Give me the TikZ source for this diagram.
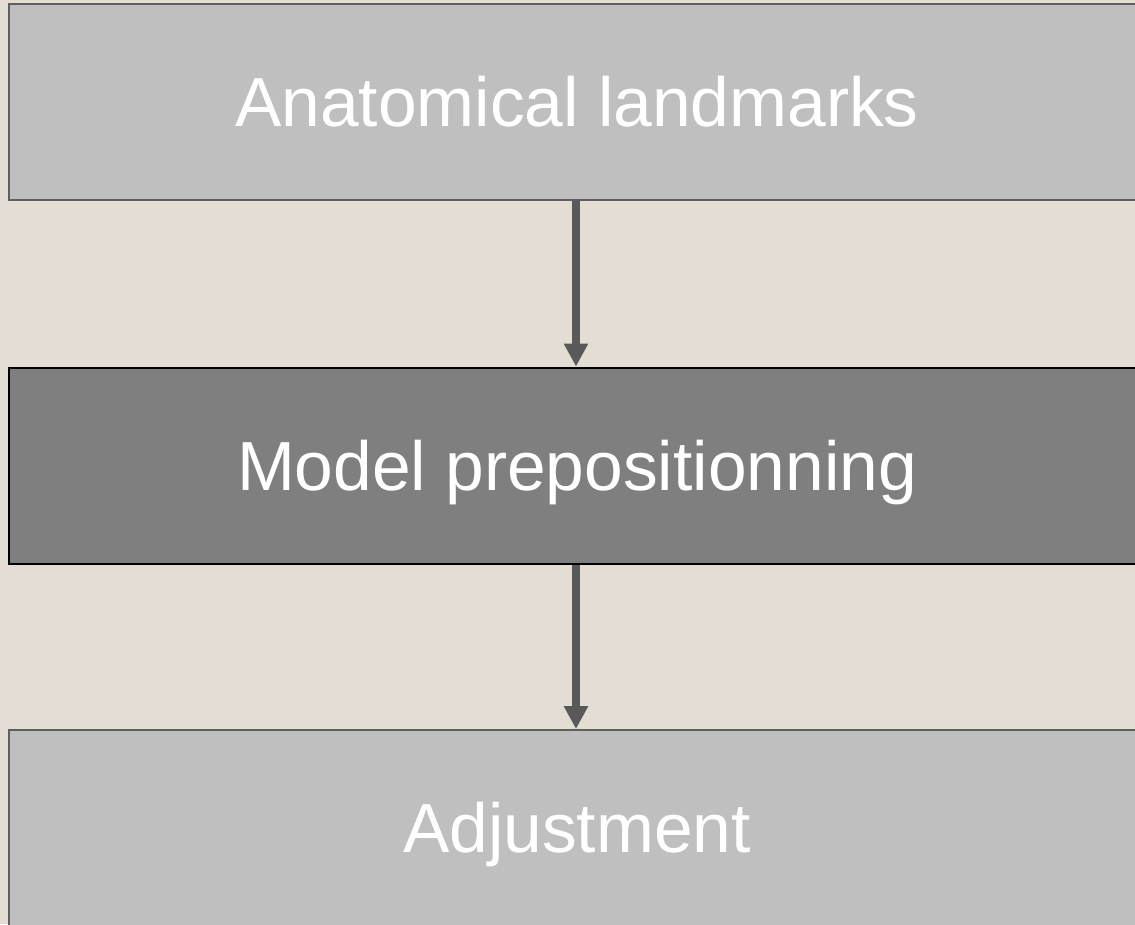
\documentclass[tikz,border=0pt]{standalone}
\usepackage{fontspec}
\setmainfont{Liberation Sans}
\usetikzlibrary{arrows.meta}
\definecolor{bg}{HTML}{E3DDD3}
\definecolor{lightbox}{HTML}{BFBFBF}
\definecolor{darkbox}{HTML}{7F7F7F}
\definecolor{lightborder}{HTML}{5F5F5F}
\definecolor{arrowc}{HTML}{595959}
\tikzset{
  stepbox/.style={rectangle, minimum width=1136pt, minimum height=196pt, inner sep=0pt,
    font=\fontsize{69.5}{80}\selectfont, text=white, text height=49.8pt, text depth=0pt},
  lightstep/.style={stepbox, fill=lightbox, draw=lightborder, line width=2pt},
  darkstep/.style={stepbox, fill=darkbox, draw=black, line width=2pt},
  flow/.style={draw=arrowc, line width=8pt, -{Triangle[length=23pt, width=23pt]}}
}
\begin{document}
\begin{tikzpicture}[x=1pt, y=-1pt]
\clip (0,0) rectangle (1135,924);
\fill[bg] (0,0) rectangle (1135,924);
\node[lightstep] (a) at (577,101.5) {Anatomical landmarks};
\node[darkstep] (b) at (577,465.5) {Model prepositionning};
\node[lightstep] (c) at (577,828) {Adjustment};
\draw[flow] (a.south -| 576,0) -- (b.north -| 576,0);
\draw[flow] (b.south -| 576,0) -- (c.north -| 576,0);
\end{tikzpicture}
\end{document}
